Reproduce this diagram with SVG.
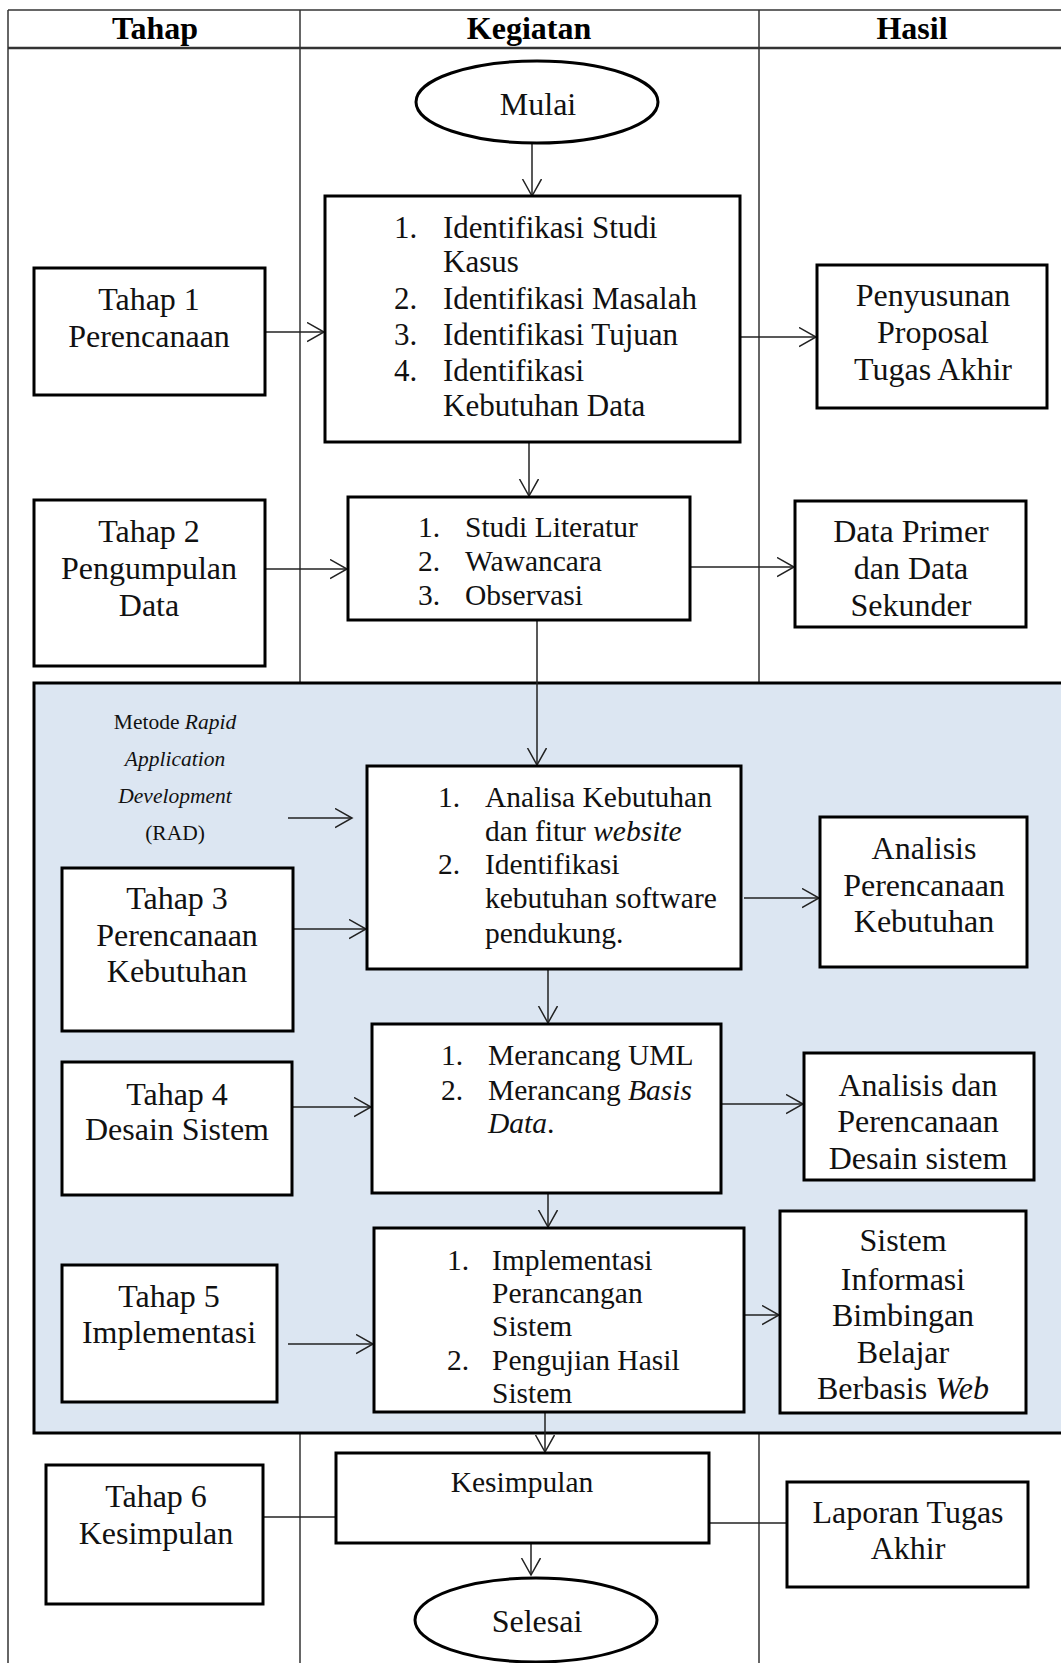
<svg xmlns="http://www.w3.org/2000/svg" width="1061" height="1663" viewBox="0 0 1061 1663">
<defs>
<style>
.tl{stroke:#333;stroke-width:1.5;fill:none}
.box{fill:#fff;stroke:#000;stroke-width:3}
.t{font-family:"Liberation Serif","Times New Roman",serif;font-size:32px;fill:#111}
.k1{font-size:31px}
.k{font-size:29.5px}
.c{text-anchor:middle}
.h{font-family:"Liberation Serif","Times New Roman",serif;font-size:32px;font-weight:bold;fill:#000;text-anchor:middle}
.s{font-family:"Liberation Serif","Times New Roman",serif;font-size:21.5px;fill:#111;text-anchor:middle}
.cn{stroke:#222;stroke-width:1.5;fill:none;marker-end:url(#ah)}
</style>
<marker id="ah" markerUnits="userSpaceOnUse" markerWidth="20" markerHeight="22" refX="17" refY="10" orient="auto">
<path d="M0,0.5 L17,10 L0,19.5" fill="none" stroke="#222" stroke-width="1.5"/>
</marker>
</defs>
<rect width="1061" height="1663" fill="#fff"/>
<g id="table">
<line class="tl" x1="8" y1="10" x2="1065" y2="10"/>
<line x1="8" y1="48" x2="1065" y2="48" stroke="#333" stroke-width="2.5"/>
<line class="tl" x1="8" y1="10" x2="8" y2="1663"/>
<line class="tl" x1="300" y1="10" x2="300" y2="1663"/>
<line class="tl" x1="759" y1="10" x2="759" y2="1663"/>
<text class="h" x="155" y="39">Tahap</text>
<text class="h" x="529" y="39">Kegiatan</text>
<text class="h" x="912" y="39">Hasil</text>
</g>
<g id="rad-region">
<rect x="34" y="683" width="1040" height="750" fill="#dce6f2" stroke="#000" stroke-width="3"/>
<text class="s" x="175" y="729">Metode <tspan font-style="italic">Rapid</tspan></text>
<text class="s" x="175" y="766" font-style="italic">Application</text>
<text class="s" x="175" y="803" font-style="italic">Development</text>
<text class="s" x="175" y="840">(RAD)</text>
</g>
<g id="connectors">
<line class="cn" x1="532" y1="143" x2="532" y2="196"/>
<line class="cn" x1="265" y1="332" x2="324" y2="332"/>
<line class="cn" x1="740" y1="337" x2="816" y2="337"/>
<line class="cn" x1="529" y1="442" x2="529" y2="496"/>
<line class="cn" x1="265" y1="569" x2="347" y2="569"/>
<line class="cn" x1="690" y1="567" x2="794" y2="567"/>
<line class="cn" x1="537" y1="620" x2="537" y2="765"/>
<line class="cn" x1="288" y1="818" x2="352" y2="818"/>
<line class="cn" x1="293" y1="929" x2="366" y2="929"/>
<line class="cn" x1="744" y1="898" x2="819" y2="898"/>
<line class="cn" x1="548" y1="969" x2="548" y2="1023"/>
<line class="cn" x1="292" y1="1107" x2="371" y2="1107"/>
<line class="cn" x1="721" y1="1104" x2="803" y2="1104"/>
<line class="cn" x1="548" y1="1193" x2="548" y2="1227"/>
<line class="cn" x1="288" y1="1344" x2="373" y2="1344"/>
<line class="cn" x1="744" y1="1315" x2="779" y2="1315"/>
<line class="cn" x1="545" y1="1412" x2="545" y2="1452"/>
<line class="cn" x1="263" y1="1517" x2="352" y2="1517"/>
<line class="cn" x1="709" y1="1523" x2="803" y2="1523"/>
<line class="cn" x1="531" y1="1543" x2="531" y2="1575"/>
</g>
<g id="mulai">
<ellipse cx="537" cy="102" rx="121" ry="41" fill="#fff" stroke="#000" stroke-width="3"/>
<text class="t c" x="538" y="115">Mulai</text>
</g>
<g id="kegiatan1">
<rect class="box" x="325" y="196" width="415" height="246"/>
<text class="t k1"><tspan x="394" y="238">1.</tspan><tspan x="443" y="238">Identifikasi Studi</tspan><tspan x="443" y="272">Kasus</tspan><tspan x="394" y="309">2.</tspan><tspan x="443" y="309">Identifikasi Masalah</tspan><tspan x="394" y="345">3.</tspan><tspan x="443" y="345">Identifikasi Tujuan</tspan><tspan x="394" y="381">4.</tspan><tspan x="443" y="381">Identifikasi</tspan><tspan x="443" y="416">Kebutuhan Data</tspan></text>
</g>
<g id="tahap1">
<rect class="box" x="34" y="268" width="231" height="127"/>
<text class="t c"><tspan x="149" y="310">Tahap 1</tspan><tspan x="149" y="347">Perencanaan</tspan></text>
</g>
<g id="hasil1">
<rect class="box" x="817" y="265" width="230" height="143"/>
<text class="t c"><tspan x="933" y="306">Penyusunan</tspan><tspan x="933" y="343">Proposal</tspan><tspan x="933" y="380">Tugas Akhir</tspan></text>
</g>
<g id="kegiatan2">
<rect class="box" x="348" y="497" width="342" height="123"/>
<text class="t k"><tspan x="418" y="537">1.</tspan><tspan x="465" y="537">Studi Literatur</tspan><tspan x="418" y="571">2.</tspan><tspan x="465" y="571">Wawancara</tspan><tspan x="418" y="605">3.</tspan><tspan x="465" y="605">Observasi</tspan></text>
</g>
<g id="tahap2">
<rect class="box" x="34" y="500" width="231" height="166"/>
<text class="t c"><tspan x="149" y="542">Tahap 2</tspan><tspan x="149" y="579">Pengumpulan</tspan><tspan x="149" y="616">Data</tspan></text>
</g>
<g id="hasil2">
<rect class="box" x="795" y="501" width="231" height="126"/>
<text class="t c"><tspan x="911" y="542">Data Primer</tspan><tspan x="911" y="579">dan Data</tspan><tspan x="911" y="616">Sekunder</tspan></text>
</g>
<g id="kegiatan3">
<rect class="box" x="367" y="766" width="374" height="203"/>
<text class="t k"><tspan x="438" y="807">1.</tspan><tspan x="485" y="807">Analisa Kebutuhan</tspan><tspan x="485" y="841">dan fitur <tspan font-style="italic">website</tspan></tspan><tspan x="438" y="874">2.</tspan><tspan x="485" y="874">Identifikasi</tspan><tspan x="485" y="908">kebutuhan software</tspan><tspan x="485" y="943">pendukung.</tspan></text>
</g>
<g id="tahap3">
<rect class="box" x="62" y="868" width="231" height="163"/>
<text class="t c"><tspan x="177" y="909">Tahap 3</tspan><tspan x="177" y="946">Perencanaan</tspan><tspan x="177" y="982">Kebutuhan</tspan></text>
</g>
<g id="hasil3">
<rect class="box" x="820" y="817" width="207" height="150"/>
<text class="t c"><tspan x="924" y="859">Analisis</tspan><tspan x="924" y="896">Perencanaan</tspan><tspan x="924" y="932">Kebutuhan</tspan></text>
</g>
<g id="kegiatan4">
<rect class="box" x="372" y="1024" width="349" height="169"/>
<text class="t k"><tspan x="441" y="1065">1.</tspan><tspan x="488" y="1065">Merancang UML</tspan><tspan x="441" y="1100">2.</tspan><tspan x="488" y="1100">Merancang <tspan font-style="italic">Basis</tspan></tspan><tspan x="488" y="1133"><tspan font-style="italic">Data</tspan>.</tspan></text>
</g>
<g id="tahap4">
<rect class="box" x="62" y="1062" width="230" height="133"/>
<text class="t c"><tspan x="177" y="1105">Tahap 4</tspan><tspan x="177" y="1140">Desain Sistem</tspan></text>
</g>
<g id="hasil4">
<rect class="box" x="804" y="1053" width="230" height="127"/>
<text class="t c"><tspan x="918" y="1096">Analisis dan</tspan><tspan x="918" y="1132">Perencanaan</tspan><tspan x="918" y="1169">Desain sistem</tspan></text>
</g>
<g id="kegiatan5">
<rect class="box" x="374" y="1228" width="370" height="184"/>
<text class="t k"><tspan x="447" y="1270">1.</tspan><tspan x="492" y="1270">Implementasi</tspan><tspan x="492" y="1303">Perancangan</tspan><tspan x="492" y="1336">Sistem</tspan><tspan x="447" y="1370">2.</tspan><tspan x="492" y="1370">Pengujian Hasil</tspan><tspan x="492" y="1403">Sistem</tspan></text>
</g>
<g id="tahap5">
<rect class="box" x="62" y="1265" width="215" height="137"/>
<text class="t c"><tspan x="169" y="1307">Tahap 5</tspan><tspan x="169" y="1343">Implementasi</tspan></text>
</g>
<g id="hasil5">
<rect class="box" x="780" y="1211" width="246" height="202"/>
<text class="t c"><tspan x="903" y="1251">Sistem</tspan><tspan x="903" y="1290">Informasi</tspan><tspan x="903" y="1326">Bimbingan</tspan><tspan x="903" y="1363">Belajar</tspan><tspan x="903" y="1399">Berbasis <tspan font-style="italic">Web</tspan></tspan></text>
</g>
<g id="kegiatan6">
<rect class="box" x="336" y="1453" width="373" height="90"/>
<text class="t k c" x="522" y="1492">Kesimpulan</text>
</g>
<g id="tahap6">
<rect class="box" x="46" y="1465" width="217" height="139"/>
<text class="t c"><tspan x="156" y="1507">Tahap 6</tspan><tspan x="156" y="1544">Kesimpulan</tspan></text>
</g>
<g id="hasil6">
<rect class="box" x="787" y="1482" width="241" height="105"/>
<text class="t c"><tspan x="908" y="1523">Laporan Tugas</tspan><tspan x="908" y="1559">Akhir</tspan></text>
</g>
<g id="selesai">
<ellipse cx="536" cy="1620" rx="121" ry="42" fill="#fff" stroke="#000" stroke-width="3"/>
<text class="t c" x="537" y="1632">Selesai</text>
</g>
</svg>
